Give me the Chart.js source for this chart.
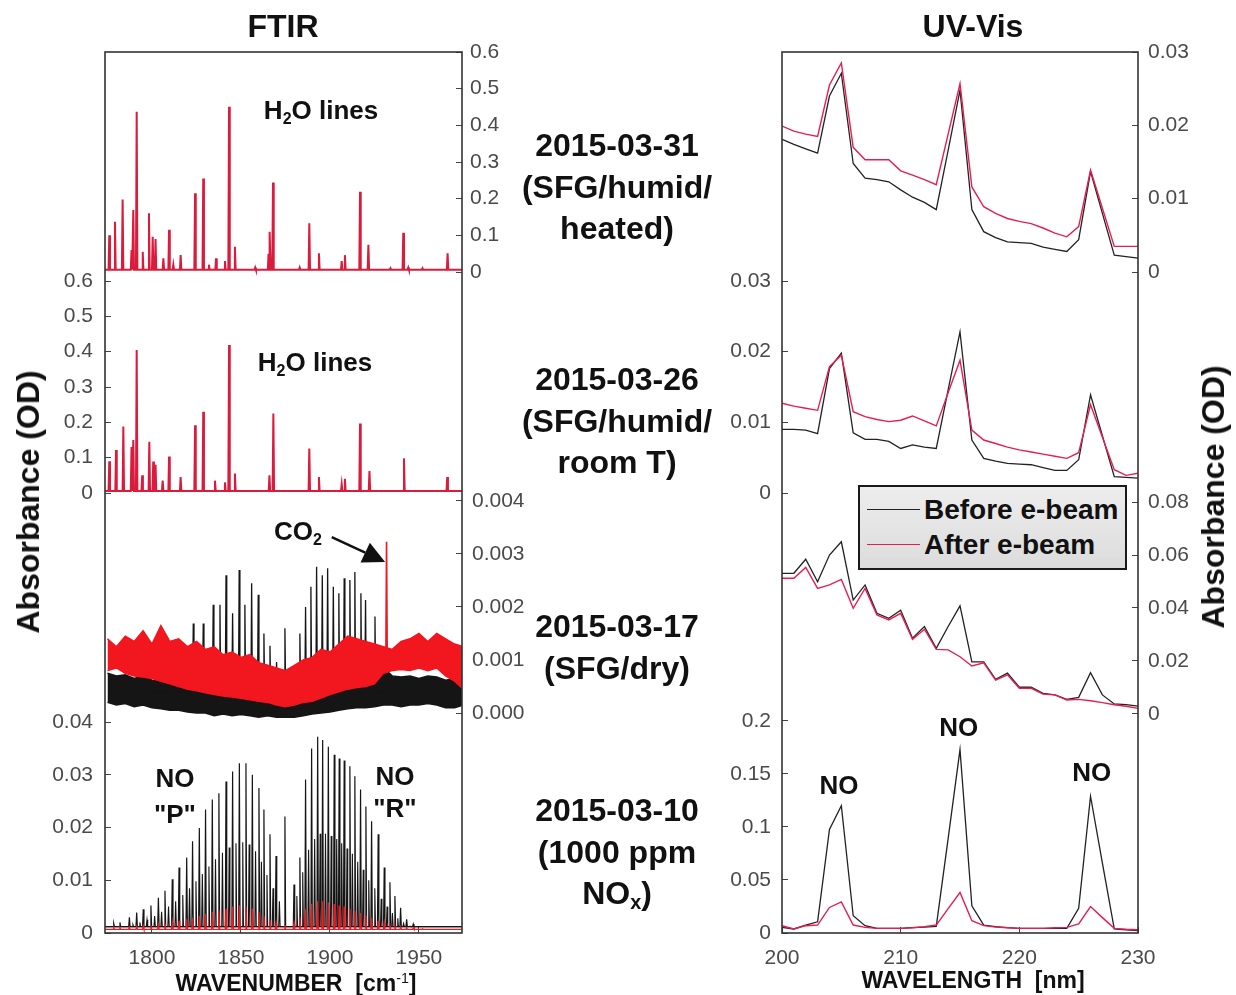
<!DOCTYPE html>
<html>
<head>
<meta charset="utf-8">
<script src="https://cdn.jsdelivr.net/npm/chart.js@4.4.1/dist/chart.umd.min.js"></script>
<style>
body { margin: 0; background: #fff; width: 1236px; height: 995px; position: relative; overflow: hidden;
  font-family: "Liberation Sans", Arial, sans-serif; color: #111; }
canvas { position: absolute; top: 0; }
#ftir { left: 0; }
#uvvis { left: 700px; }
.t { position: absolute; transform: translate(-50%, -50%); font-weight: bold; white-space: nowrap; text-align: center; z-index: 2; }
.big { font-size: 32px; line-height: 41.5px; }
.ax { font-size: 23px; line-height: 24px; }
.rot { transform: translate(-50%, -50%) rotate(-90deg); font-size: 32px; line-height: 34px; }
sub { font-size: 0.62em; vertical-align: -0.28em; line-height: 0; }
sup { font-size: 0.62em; vertical-align: 0.55em; line-height: 0; font-weight: normal; }
#legend { position: absolute; left: 858px; top: 485px; width: 265px; height: 81px; border: 2.5px solid #1a1a1a;
  background: linear-gradient(#ededed, #dcdcdc); z-index: 2; }
#legend div { position: absolute; left: 64px; font-size: 28px; font-weight: bold; line-height: 30px; }
#legend span { position: absolute; left: 7px; width: 53px; height: 0; }
</style>
</head>
<body>
<canvas id="ftir" width="560" height="995"></canvas>
<canvas id="uvvis" width="536" height="995"></canvas>

<div class="t big" style="left:283px;top:26px;line-height:32px">FTIR</div>
<div class="t big" style="left:973px;top:26px;line-height:32px">UV-Vis</div>

<div class="t big" style="left:617px;top:187px">2015-03-31<br>(SFG/humid/<br>heated)</div>
<div class="t big" style="left:617px;top:421px">2015-03-26<br>(SFG/humid/<br>room T)</div>
<div class="t big" style="left:617px;top:647px">2015-03-17<br>(SFG/dry)</div>
<div class="t big" style="left:617px;top:852px">2015-03-10<br>(1000 ppm<br>NO<sub>x</sub>)</div>

<div class="t rot" style="left:28px;top:502px">Absorbance (OD)</div>
<div class="t rot" style="left:1213px;top:497px">Absorbance (OD)</div>

<div class="t ax" style="left:296px;top:983px">WAVENUMBER&nbsp;&nbsp;[cm<sup>-1</sup>]</div>
<div class="t ax" style="left:973px;top:980px">WAVELENGTH&nbsp;&nbsp;[nm]</div>

<div id="legend">
  <span style="top:22px;border-top:1.5px solid #222"></span>
  <div style="top:8px">Before e-beam</div>
  <span style="top:57px;border-top:1.5px solid #e61e50"></span>
  <div style="top:43px">After e-beam</div>
</div>

<script>
// ---------------- FTIR ----------------
const ftirTicks = [1800, 1850, 1900, 1950];

// 2015-03-31, H2O lines (peak position cm-1, height OD)
const h2oPos31 = [1776.0, 1779.2, 1783.5, 1788.5, 1789.5, 1791.4, 1794.8, 1798.3, 1800.4, 1802.0, 1806.4, 1809.6, 1812.0, 1816.1, 1824.2, 1828.8, 1832.0, 1836.0, 1841.0, 1843.3, 1846.6, 1858.0, 1865.5, 1866.3, 1868.0, 1883.0, 1888.4, 1893.8, 1906.6, 1908.4, 1916.9, 1921.6, 1934.0, 1941.2, 1944.0, 1952.0, 1966.1];
const h2oAbs31 = [0.100, 0.137, 0.198, 0.060, 0.169, 0.437, 0.055, 0.160, 0.096, 0.090, 0.037, 0.115, 0.020, 0.046, 0.215, 0.255, 0.020, 0.037, 0.030, 0.451, 0.069, 0.012, 0.050, 0.110, 0.244, 0.012, 0.133, 0.051, 0.030, 0.046, 0.219, 0.074, 0.010, 0.107, 0.012, 0.010, 0.051];

// 2015-03-26, H2O lines
const h2oPos26 = [1776.0, 1779.8, 1783.9, 1788.5, 1789.5, 1791.4, 1794.5, 1798.5, 1800.7, 1802.0, 1806.0, 1809.6, 1816.1, 1824.2, 1828.8, 1835.4, 1841.0, 1843.3, 1846.6, 1866.0, 1868.2, 1888.4, 1893.8, 1906.6, 1908.4, 1916.9, 1922.2, 1941.6, 1965.9];
const h2oAbs26 = [0.090, 0.122, 0.188, 0.130, 0.150, 0.405, 0.050, 0.145, 0.089, 0.080, 0.035, 0.103, 0.045, 0.192, 0.230, 0.035, 0.030, 0.419, 0.055, 0.050, 0.225, 0.126, 0.045, 0.025, 0.040, 0.197, 0.062, 0.098, 0.045];
const h2oBase = 0.006;

// 2015-03-17, dry: noise band edges, NO lines (before) and CO2 line (after)
const bandWn = [1775, 1780, 1785, 1790, 1795, 1800, 1805, 1810, 1815, 1820, 1825, 1830, 1835, 1840, 1845, 1850, 1855, 1860, 1865, 1870, 1875, 1880, 1885, 1890, 1895, 1900, 1905, 1910, 1915, 1920, 1925, 1930, 1935, 1940, 1945, 1950, 1955, 1960, 1965, 1970, 1975];
const redHi17 = [0.00140, 0.00125, 0.00145, 0.00135, 0.00155, 0.00130, 0.00165, 0.00135, 0.00140, 0.00125, 0.00135, 0.00120, 0.00125, 0.00110, 0.00115, 0.00105, 0.00110, 0.00095, 0.00090, 0.00085, 0.00080, 0.00090, 0.00100, 0.00105, 0.00120, 0.00115, 0.00130, 0.00145, 0.00140, 0.00135, 0.00130, 0.00125, 0.00120, 0.00135, 0.00140, 0.00150, 0.00135, 0.00150, 0.00140, 0.00130, 0.00125];
const redLo17 = [0.00080, 0.00085, 0.00075, 0.00070, 0.00068, 0.00065, 0.00060, 0.00055, 0.00050, 0.00045, 0.00042, 0.00038, 0.00035, 0.00032, 0.00030, 0.00028, 0.00025, 0.00022, 0.00020, 0.00015, 0.00012, 0.00015, 0.00020, 0.00022, 0.00028, 0.00035, 0.00040, 0.00045, 0.00048, 0.00050, 0.00055, 0.00075, 0.00080, 0.00082, 0.00080, 0.00085, 0.00080, 0.00085, 0.00070, 0.00060, 0.00045];
const blkHi17 = [0.00075, 0.00070, 0.00072, 0.00065, 0.00070, 0.00062, 0.00060, 0.00055, 0.00052, 0.00050, 0.00048, 0.00045, 0.00045, 0.00042, 0.00040, 0.00040, 0.00038, 0.00035, 0.00032, 0.00030, 0.00028, 0.00032, 0.00035, 0.00040, 0.00045, 0.00048, 0.00050, 0.00055, 0.00058, 0.00060, 0.00062, 0.00085, 0.00070, 0.00068, 0.00070, 0.00065, 0.00070, 0.00068, 0.00062, 0.00065, 0.00060];
const blkLo17 = [0.00020, 0.00015, 0.00018, 0.00012, 0.00015, 0.00010, 0.00008, 0.00005, 0.00005, 0.00002, 0.00000, 0.00000, -0.00005, -0.00002, -0.00005, -0.00003, -0.00005, -0.00008, -0.00005, -0.00008, -0.00008, -0.00008, -0.00005, -0.00002, 0.00000, 0.00002, 0.00005, 0.00008, 0.00010, 0.00010, 0.00012, 0.00015, 0.00015, 0.00012, 0.00015, 0.00015, 0.00018, 0.00015, 0.00010, 0.00010, 0.00015];
const noPos17 = [1813.0, 1818.5, 1823.2, 1828.8, 1834.4, 1838.2, 1841.6, 1845.3, 1849.0, 1852.2, 1856.0, 1859.7, 1862.9, 1866.3, 1870.0, 1874.7, 1883.1, 1886.3, 1889.3, 1892.5, 1895.7, 1898.7, 1901.9, 1905.0, 1908.0, 1911.2, 1914.0, 1917.4, 1920.0, 1925.3];
const noAbs17 = [0.00095, 0.00115, 0.00169, 0.00169, 0.00204, 0.00204, 0.00260, 0.00188, 0.00270, 0.00204, 0.00245, 0.00223, 0.00150, 0.00127, 0.00096, 0.00160, 0.00150, 0.00200, 0.00238, 0.00276, 0.00260, 0.00273, 0.00238, 0.00226, 0.00254, 0.00251, 0.00266, 0.00226, 0.00213, 0.00182];
const co2Pos17 = [1931.8];
const co2Abs17 = [0.00323];

// 2015-03-10, 1000 ppm NOx: strong NO lines, weaker companion lines, after e-beam lines
const noPos10 = [1778.5, 1782.0, 1787.3, 1791.4, 1795.1, 1799.4, 1803.6, 1807.3, 1811.4, 1815.2, 1819.5, 1822.8, 1826.6, 1830.1, 1833.9, 1837.6, 1841.6, 1845.3, 1849.1, 1852.8, 1856.4, 1860.1, 1862.9, 1866.3, 1869.7, 1874.7, 1879.8, 1883.1, 1886.3, 1889.7, 1893.1, 1895.9, 1899.1, 1902.4, 1905.2, 1908.0, 1911.2, 1914.0, 1917.2, 1920.2, 1923.4, 1927.1, 1930.5, 1933.7, 1936.5, 1939.7, 1943.1, 1946.8, 1952.0];
const noAbs10 = [0.0018, 0.0020, 0.0030, 0.0039, 0.0045, 0.0052, 0.0067, 0.0080, 0.0102, 0.0124, 0.0143, 0.0174, 0.0199, 0.0234, 0.0253, 0.0265, 0.0287, 0.0306, 0.0322, 0.0322, 0.0300, 0.0275, 0.0234, 0.0187, 0.0146, 0.0221, 0.0092, 0.0143, 0.0291, 0.0350, 0.0372, 0.0366, 0.0353, 0.0338, 0.0331, 0.0327, 0.0316, 0.0297, 0.0272, 0.0240, 0.0212, 0.0187, 0.0124, 0.0096, 0.0070, 0.0048, 0.0026, 0.0017, 0.0012];
const noAfter10 = [0.0010, 0.0010, 0.0011, 0.0012, 0.0013, 0.0014, 0.0016, 0.0018, 0.0020, 0.0023, 0.0026, 0.0029, 0.0032, 0.0036, 0.0040, 0.0043, 0.0046, 0.0050, 0.0052, 0.0050, 0.0046, 0.0040, 0.0032, 0.0025, 0.0018, 0.0015, 0.0018, 0.0030, 0.0045, 0.0055, 0.0060, 0.0060, 0.0058, 0.0055, 0.0052, 0.0050, 0.0046, 0.0042, 0.0038, 0.0033, 0.0028, 0.0023, 0.0019, 0.0016, 0.0013, 0.0011, 0.0010, 0.0009, 0.0008];
const no2Pos10 = [1784.5, 1789.3, 1793.2, 1797.2, 1801.5, 1805.4, 1809.3, 1813.3, 1817.3, 1821.1, 1824.7, 1828.3, 1832.0, 1835.7, 1839.6, 1843.4, 1847.2, 1851.0, 1854.6, 1858.2, 1861.5, 1864.6, 1868.0, 1871.6, 1881.4, 1884.7, 1888.0, 1891.4, 1894.5, 1897.5, 1900.7, 1903.8, 1906.6, 1909.6, 1912.6, 1915.6, 1918.7, 1921.8, 1925.2, 1928.8, 1932.1, 1935.1, 1938.1, 1941.4, 1945.0];
const no2Abs10 = [0.0012, 0.0016, 0.0020, 0.0025, 0.0032, 0.0040, 0.0050, 0.0060, 0.0072, 0.0085, 0.0098, 0.0112, 0.0126, 0.0140, 0.0152, 0.0162, 0.0170, 0.0172, 0.0168, 0.0155, 0.0135, 0.0110, 0.0085, 0.0060, 0.0070, 0.0115, 0.0158, 0.0178, 0.0188, 0.0188, 0.0184, 0.0178, 0.0170, 0.0160, 0.0150, 0.0135, 0.0120, 0.0100, 0.0085, 0.0065, 0.0050, 0.0038, 0.0028, 0.0018, 0.0013];
const base10 = 0.0012;
const baseAfter10 = 0.0007;

// ---------------- UV-Vis ----------------
const uvTicks = [200, 210, 220, 230];
const nm = [200, 201, 202, 203, 204, 205, 206, 207, 208, 209, 210, 211, 212, 213, 214, 215, 216, 217, 218, 219, 220, 221, 222, 223, 224, 225, 226, 227, 228, 229, 230];
const uvBefore31 = [0.0181, 0.0174, 0.0168, 0.0162, 0.0240, 0.0271, 0.0148, 0.0128, 0.0126, 0.0123, 0.0112, 0.0102, 0.0095, 0.0085, 0.0166, 0.0248, 0.0085, 0.0055, 0.0047, 0.0041, 0.0040, 0.0039, 0.0034, 0.0031, 0.0028, 0.0044, 0.0137, 0.0080, 0.0023, 0.0021, 0.0019];
const uvAfter31 = [0.0199, 0.0192, 0.0188, 0.0185, 0.0255, 0.0285, 0.0170, 0.0153, 0.0153, 0.0153, 0.0138, 0.0132, 0.0126, 0.0119, 0.0188, 0.0257, 0.0116, 0.0089, 0.0080, 0.0073, 0.0069, 0.0066, 0.0060, 0.0053, 0.0048, 0.0062, 0.0139, 0.0087, 0.0035, 0.0035, 0.0035];
const uvBefore26 = [0.0090, 0.0090, 0.0089, 0.0084, 0.0176, 0.0198, 0.0085, 0.0076, 0.0076, 0.0073, 0.0063, 0.0068, 0.0065, 0.0063, 0.0146, 0.0228, 0.0075, 0.0049, 0.0045, 0.0042, 0.0041, 0.0040, 0.0036, 0.0032, 0.0032, 0.0047, 0.0139, 0.0081, 0.0023, 0.0022, 0.0021];
const uvAfter26 = [0.0127, 0.0123, 0.0120, 0.0117, 0.0179, 0.0195, 0.0115, 0.0108, 0.0104, 0.0101, 0.0103, 0.0109, 0.0102, 0.0095, 0.0142, 0.0188, 0.0089, 0.0075, 0.0070, 0.0065, 0.0061, 0.0058, 0.0055, 0.0052, 0.0049, 0.0057, 0.0125, 0.0079, 0.0033, 0.0025, 0.0028];
const uvBefore17 = [0.0531, 0.0531, 0.0584, 0.0499, 0.0600, 0.0650, 0.0430, 0.0487, 0.0380, 0.0361, 0.0392, 0.0286, 0.0330, 0.0248, 0.0330, 0.0408, 0.0197, 0.0197, 0.0131, 0.0154, 0.0101, 0.0101, 0.0078, 0.0072, 0.0055, 0.0063, 0.0156, 0.0072, 0.0038, 0.0035, 0.0030];
const uvAfter17 = [0.0512, 0.0512, 0.0553, 0.0474, 0.0487, 0.0508, 0.0399, 0.0474, 0.0374, 0.0355, 0.0380, 0.0282, 0.0320, 0.0244, 0.0242, 0.0216, 0.0181, 0.0193, 0.0128, 0.0148, 0.0097, 0.0097, 0.0075, 0.0072, 0.0053, 0.0055, 0.0050, 0.0043, 0.0035, 0.0029, 0.0021];
const uvBefore10 = [0.0053, 0.0038, 0.0075, 0.0106, 0.0977, 0.1200, 0.0163, 0.0069, 0.0044, 0.0044, 0.0044, 0.0050, 0.0055, 0.0063, 0.0890, 0.1730, 0.0257, 0.0075, 0.0060, 0.0050, 0.0044, 0.0044, 0.0044, 0.0044, 0.0044, 0.0232, 0.1290, 0.0660, 0.0038, 0.0030, 0.0022];
const uvAfter10 = [0.0069, 0.0038, 0.0069, 0.0075, 0.0241, 0.0294, 0.0075, 0.0053, 0.0044, 0.0044, 0.0044, 0.0050, 0.0060, 0.0075, 0.0230, 0.0382, 0.0116, 0.0069, 0.0055, 0.0050, 0.0044, 0.0044, 0.0044, 0.0050, 0.0053, 0.0085, 0.0250, 0.0145, 0.0044, 0.0035, 0.0031];

// tick values and labels of the stacked panels
const tk06 = [0, 0.1, 0.2, 0.3, 0.4, 0.5, 0.6];
const lb06 = ["0", "0.1", "0.2", "0.3", "0.4", "0.5", "0.6"];
const tk004 = [0, 0.001, 0.002, 0.003, 0.004];
const lb004 = ["0.000", "0.001", "0.002", "0.003", "0.004"];
const tk04 = [0, 0.01, 0.02, 0.03, 0.04];
const lb04 = ["0", "0.01", "0.02", "0.03", "0.04"];
const tk03 = [0, 0.01, 0.02, 0.03];
const lb03 = ["0", "0.01", "0.02", "0.03"];
const tk08 = [0, 0.02, 0.04, 0.06, 0.08];
const lb08 = ["0", "0.02", "0.04", "0.06", "0.08"];
const tk2 = [0, 0.05, 0.1, 0.15, 0.2];
const lb2 = ["0", "0.05", "0.1", "0.15", "0.2"];

Chart.defaults.font.family = '"Liberation Sans", Arial, sans-serif';
const BLACK = "#151515";
const CRIMSON = "#dc1a3c";
const RED = "#f2161f";
const UVRED = "#e61e50";
const tickFont = { size: 21 };
const tickColor = "#4a4a4a";

// line spectrum: every peak becomes a narrow spike on the baseline
function sticks(pos, abs, base, xmin, xmax) {
	const pts = [{ x: xmin, y: base }];
	pos.forEach((p, i) => {
		pts.push({ x: p - 0.4, y: base }, { x: p, y: abs[i] }, { x: p + 0.4, y: base });
	});
	pts.push({ x: xmax, y: base });
	return pts;
}

function xy(xs, ys) {
	return xs.map((x, i) => ({ x: x, y: ys[i] }));
}

function line(data, axis, color, width, order, extra) {
	return Object.assign({
		data: data,
		yAxisID: axis,
		borderColor: color,
		backgroundColor: color,
		borderWidth: width,
		pointRadius: 0,
		tension: 0,
		fill: false,
		order: order,
	}, extra || {});
}

// four stacked panels, each with a left and a right axis sharing its range
function panelScales(panels) {
	const scales = {};
	panels.forEach((p, i) => {
		["left", "right"].forEach(side => {
			const show = p.side === side;
			scales[(side === "left" ? "L" : "R") + i] = {
				type: "linear",
				position: side,
				stack: side,
				stackWeight: p.h,
				weight: side === "left" ? 4 - i : i + 1,
				min: p.min,
				max: p.max,
				bounds: "data",
				grid: { display: show, drawOnChartArea: false, tickLength: -6, color: "#444" },
				border: { display: false },
				ticks: {
					display: show,
					autoSkip: false,
					padding: p.pad,
					font: tickFont,
					color: tickColor,
					callback: (v, k) => p.labels[k],
				},
				afterBuildTicks: s => { s.ticks = p.ticks.map(v => ({ value: v })); },
				afterFit: s => { s.width = 70; },
			};
		});
	});
	return scales;
}

function xScale(min, max, ticks) {
	return {
		type: "linear",
		position: "bottom",
		min: min,
		max: max,
		bounds: "data",
		grid: { display: true, drawOnChartArea: false, tickLength: -6, color: "#444" },
		border: { display: false },
		ticks: { autoSkip: false, maxRotation: 0, padding: 19, font: tickFont, color: tickColor,
			callback: v => String(v) },
		afterBuildTicks: s => { s.ticks = ticks.map(v => ({ value: v })); },
		afterFit: s => { s.height = 40; },
	};
}

function drawRich(ctx, parts, cx, cy, size) {
	const big = "bold " + size + 'px "Liberation Sans", Arial, sans-serif';
	const small = "bold " + Math.round(size * 0.62) + 'px "Liberation Sans", Arial, sans-serif';
	let w = 0;
	const widths = parts.map(p => {
		ctx.font = p.sub ? small : big;
		const pw = ctx.measureText(p.t).width;
		w += pw;
		return pw;
	});
	let x = cx - w / 2;
	ctx.textAlign = "left";
	ctx.textBaseline = "middle";
	ctx.fillStyle = "#111";
	parts.forEach((p, i) => {
		ctx.font = p.sub ? small : big;
		ctx.fillText(p.t, x, p.sub ? cy + size * 0.3 : cy);
		x += widths[i];
	});
}

// frame around the plot area plus the in-plot labels
function framePlugin(notes, arrows) {
	return {
		id: "frame",
		afterDatasetsDraw(chart) {
			const ctx = chart.ctx;
			const a = chart.chartArea;
			const xs = chart.scales.x;
			ctx.save();
			ctx.strokeStyle = "#333";
			ctx.lineWidth = 1.6;
			ctx.strokeRect(a.left, a.top, a.right - a.left, a.bottom - a.top);
			notes.forEach(n => {
				const ys = chart.scales[n.axis];
				drawRich(ctx, n.parts, xs.getPixelForValue(n.x), ys.getPixelForValue(n.y), 26);
			});
			arrows.forEach(ar => {
				const ys = chart.scales[ar.axis];
				const x0 = xs.getPixelForValue(ar.x0), y0 = ys.getPixelForValue(ar.y0);
				const x1 = xs.getPixelForValue(ar.x1), y1 = ys.getPixelForValue(ar.y1);
				const len = Math.hypot(x1 - x0, y1 - y0);
				const ux = (x1 - x0) / len, uy = (y1 - y0) / len;
				const bx = x1 - ux * 22, by = y1 - uy * 22;
				ctx.strokeStyle = "#111";
				ctx.fillStyle = "#111";
				ctx.lineWidth = 2.5;
				ctx.beginPath();
				ctx.moveTo(x0, y0);
				ctx.lineTo(bx, by);
				ctx.stroke();
				ctx.beginPath();
				ctx.moveTo(x1, y1);
				ctx.lineTo(bx - uy * 11, by + ux * 11);
				ctx.lineTo(bx + uy * 11, by - ux * 11);
				ctx.closePath();
				ctx.fill();
			});
			ctx.restore();
		},
	};
}

// ---------------- FTIR chart ----------------
const FX0 = 1773.6, FX1 = 1974.2;
const ftirPanels = [
	{ h: 224, min: -0.0109, max: 0.6, side: "right", pad: 14, ticks: tk06, labels: lb06 },
	{ h: 221, min: -0.0113, max: 0.6142, side: "left", pad: 18, ticks: tk06, labels: lb06 },
	{ h: 221, min: -0.0000943, max: 0.004075, side: "right", pad: 16, ticks: tk004, labels: lb004 },
	{ h: 215, min: 0, max: 0.04076, side: "left", pad: 18, ticks: tk04, labels: lb04 },
];

const ftirNotes = [
	{ axis: "L0", x: 1895, y: 0.436, parts: [{ t: "H" }, { t: "2", sub: true }, { t: "O lines" }] },
	{ axis: "L1", x: 1891.6, y: 0.365, parts: [{ t: "H" }, { t: "2", sub: true }, { t: "O lines" }] },
	{ axis: "L2", x: 1882, y: 0.0034, parts: [{ t: "CO" }, { t: "2", sub: true }] },
	{ axis: "L3", x: 1812.9, y: 0.0290, parts: [{ t: "NO" }] },
	{ axis: "L3", x: 1812.9, y: 0.0222, parts: [{ t: '"P"' }] },
	{ axis: "L3", x: 1936.5, y: 0.0294, parts: [{ t: "NO" }] },
	{ axis: "L3", x: 1936.5, y: 0.0233, parts: [{ t: '"R"' }] },
];
const ftirArrows = [{ axis: "L2", x0: 1901, y0: 0.00332, x1: 1931, y1: 0.00285 }];

new Chart(document.getElementById("ftir"), {
	type: "line",
	data: {
		datasets: [
			line(sticks(h2oPos31, h2oAbs31, h2oBase, FX0, FX1), "L0", CRIMSON, 2, 0),
			line(sticks(h2oPos26, h2oAbs26, h2oBase, FX0, FX1), "L1", CRIMSON, 2, 0),
			// 2015-03-17: black band, black NO lines, red band, red CO2 line
			line(xy(bandWn, blkHi17), "L2", BLACK, 1.5, 6, { fill: "+1" }),
			line(xy(bandWn, blkLo17), "L2", BLACK, 1.5, 6),
			line(sticks(noPos17, noAbs17, 0.0004, 1800, 1930), "L2", BLACK, 1.3, 5),
			line(xy(bandWn, redHi17), "L2", RED, 1.5, 4, { fill: "+1" }),
			line(xy(bandWn, redLo17), "L2", RED, 1.5, 4),
			line(sticks(co2Pos17, co2Abs17, 0.0010, 1928, 1935), "L2", RED, 1.6, 3),
			// 2015-03-10
			line(sticks(no2Pos10, no2Abs10, base10, FX0, FX1), "L3", BLACK, 1.1, 8),
			line(sticks(noPos10, noAbs10, base10, FX0, FX1), "L3", BLACK, 1.2, 7),
			line(sticks(noPos10, noAfter10, baseAfter10, FX0, FX1), "L3", RED, 1.3, 1),
		],
	},
	options: {
		responsive: false,
		animation: false,
		events: [],
		layout: { padding: { left: 35, right: 28, top: 52, bottom: 22 } },
		scales: Object.assign({ x: xScale(FX0, FX1, ftirTicks) }, panelScales(ftirPanels)),
		plugins: { legend: { display: false }, tooltip: { enabled: false } },
	},
	plugins: [framePlugin(ftirNotes, ftirArrows)],
});

// ---------------- UV-Vis chart ----------------
const uvPanels = [
	{ h: 224, min: -0.000545, max: 0.03, side: "right", pad: 16, ticks: tk03, labels: lb03 },
	{ h: 221, min: -0.000566, max: 0.030708, side: "left", pad: 17, ticks: tk03, labels: lb03 },
	{ h: 221, min: -0.00151, max: 0.081887, side: "right", pad: 16, ticks: tk08, labels: lb08 },
	{ h: 215, min: 0, max: 0.20283, side: "left", pad: 17, ticks: tk2, labels: lb2 },
];
const uvNotes = [
	{ axis: "L3", x: 204.8, y: 0.1377, parts: [{ t: "NO" }] },
	{ axis: "L3", x: 214.9, y: 0.1925, parts: [{ t: "NO" }] },
	{ axis: "L3", x: 226.1, y: 0.150, parts: [{ t: "NO" }] },
];

new Chart(document.getElementById("uvvis"), {
	type: "line",
	data: {
		datasets: [
			line(xy(nm, uvAfter31), "L0", UVRED, 1.4, 0),
			line(xy(nm, uvBefore31), "L0", "#222", 1.3, 1),
			line(xy(nm, uvAfter26), "L1", UVRED, 1.4, 0),
			line(xy(nm, uvBefore26), "L1", "#222", 1.3, 1),
			line(xy(nm, uvAfter17), "L2", UVRED, 1.4, 0),
			line(xy(nm, uvBefore17), "L2", "#222", 1.3, 1),
			line(xy(nm, uvAfter10), "L3", UVRED, 1.4, 0),
			line(xy(nm, uvBefore10), "L3", "#222", 1.3, 1),
		],
	},
	options: {
		responsive: false,
		animation: false,
		events: [],
		layout: { padding: { left: 12, right: 28, top: 52, bottom: 22 } },
		scales: Object.assign({ x: xScale(200, 230, uvTicks) }, panelScales(uvPanels)),
		plugins: { legend: { display: false }, tooltip: { enabled: false } },
	},
	plugins: [framePlugin(uvNotes, [])],
});
</script>
</body>
</html>
